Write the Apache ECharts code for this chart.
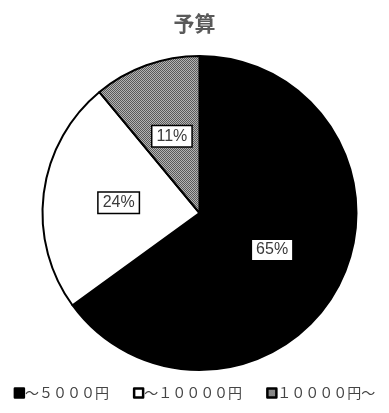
<!DOCTYPE html>
<html>
<head>
<meta charset="utf-8">
<script src="https://cdn.jsdelivr.net/npm/echarts@6/dist/echarts.min.js"></script>
<style>
  html, body { margin: 0; padding: 0; background: #fff; }
  #chart { width: 389px; height: 413px; }
</style>
</head>
<body>
<div id="chart"></div>
<script>
// Budget breakdown
const titleText = '予算';
const categories = ['～５０００円', '～１００００円', '１００００円～'];
const shares = [65, 24, 11];

// fine checkerboard fill for the last slice
function checkerPattern() {
  const c = document.createElement('canvas');
  c.width = 2; c.height = 2;
  const g = c.getContext('2d');
  g.fillStyle = '#b4b4b4'; g.fillRect(0, 0, 2, 2);
  g.fillStyle = '#5a5a5a'; g.fillRect(0, 0, 1, 1); g.fillRect(1, 1, 1, 1);
  return { image: c, repeat: 'repeat' };
}

const fills = ['#000000', '#ffffff', checkerPattern()];

const chart = echarts.init(document.getElementById('chart'), null, { renderer: 'canvas' });
chart.setOption({
  animation: false,
  backgroundColor: '#ffffff',
  title: {
    text: titleText,
    left: 'center',
    top: 8,
    textStyle: { fontFamily: 'Noto Sans CJK JP', fontSize: 21, fontWeight: 'bold', color: '#5a5a5a' }
  },
  legend: {
    bottom: 8,
    left: 'center',
    itemWidth: 9,
    itemHeight: 9,
    itemGap: 24,
    icon: 'rect',
    textStyle: { fontFamily: 'Noto Sans CJK JP', fontSize: 14, color: '#444', padding: [0, 0, 0, -4] },
    itemStyle: { borderColor: '#000', borderWidth: 2.5 },
    data: categories
  },
  series: [{
    type: 'pie',
    center: [199.5, 213],
    radius: [0, 157],
    startAngle: 90,
    clockwise: true,
    itemStyle: { borderColor: '#000', borderWidth: 2 },
    label: {
      show: true,
      position: 'inside',
      formatter: '{c}%',
      fontFamily: 'Liberation Sans',
      fontSize: 16,
      color: '#3a3a3a',
      backgroundColor: '#fff',
      borderColor: '#000',
      borderWidth: 1.5,
      padding: [3, 4, 1, 4]
    },
    labelLine: { show: false },
    emphasis: { disabled: true },
    data: categories.map((name, i) => ({
      name,
      value: shares[i],
      itemStyle: { color: fills[i] }
    }))
  }]
});
</script>
</body>
</html>
